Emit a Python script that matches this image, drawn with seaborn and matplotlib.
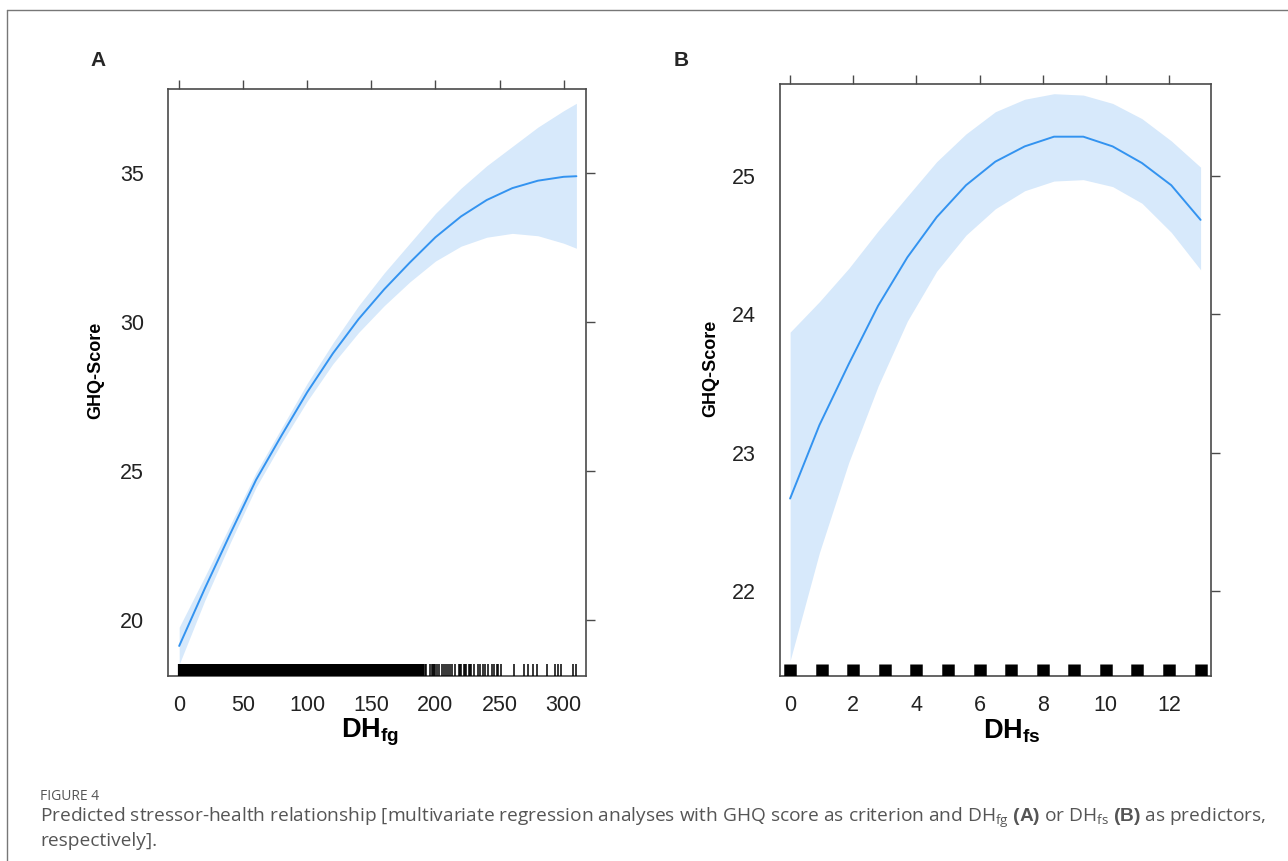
import numpy as np
import pandas as pd
import matplotlib
matplotlib.use("Agg")
import matplotlib.pyplot as plt
import seaborn as sns

# ---------------- data ----------------
# Panel A: DH_fg -> predicted GHQ-Score with 95% band
a_x = [0, 20, 40, 60, 80, 100, 120, 140, 160, 180, 200, 220, 240, 260, 280, 300, 310]
a_fit = [19.12, 21.05, 22.90, 24.70, 26.20, 27.65, 28.95, 30.10, 31.10, 32.00,
         32.85, 33.55, 34.10, 34.50, 34.75, 34.88, 34.90]
a_lower = [18.50, 20.65, 22.60, 24.45, 25.95, 27.35, 28.60, 29.65, 30.55, 31.35,
           32.05, 32.55, 32.85, 32.98, 32.90, 32.65, 32.48]
a_upper = [19.75, 21.45, 23.20, 24.95, 26.45, 27.95, 29.30, 30.55, 31.65, 32.65,
           33.65, 34.50, 35.25, 35.90, 36.55, 37.10, 37.35]
# rug of observed DH_fg values (dense blocks 0-162 and 164-190, then sparse)
a_rug_dense1 = list(range(0, 163))
a_rug_dense2 = list(range(164, 191))
a_rug_sparse = [192, 193, 196, 197, 198, 199, 200, 201, 203, 205, 207, 208, 210, 211,
                213, 215, 218, 219, 220, 222, 223, 224, 226, 227, 228, 230, 233, 235,
                237, 239, 241, 244, 246, 248, 249, 251, 261, 269, 272, 276, 279, 287,
                293, 296, 298, 307, 310]

# Panel B: DH_fs -> predicted GHQ-Score with 95% band
b_x = [0, 0.929, 1.857, 2.786, 3.714, 4.643, 5.571, 6.5, 7.429, 8.357, 9.286,
       10.214, 11.143, 12.071, 13]
b_fit = [22.67, 23.20, 23.64, 24.06, 24.41, 24.70, 24.93, 25.10, 25.21, 25.28,
         25.28, 25.21, 25.09, 24.93, 24.68]
b_lower = [21.50, 22.28, 22.93, 23.48, 23.95, 24.31, 24.57, 24.76, 24.89, 24.96,
           24.97, 24.92, 24.80, 24.59, 24.32]
b_upper = [23.87, 24.09, 24.33, 24.60, 24.85, 25.10, 25.30, 25.46, 25.55, 25.59,
           25.58, 25.52, 25.41, 25.25, 25.06]
b_rug = list(range(0, 14))

a_xticks = [0, 50, 100, 150, 200, 250, 300]
a_yticks = [20, 25, 30, 35]
b_xticks = [0, 2, 4, 6, 8, 10, 12]
b_yticks = [22, 23, 24, 25]

caption_title = "FIGURE 4"
caption_l1 = (r"Predicted stressor-health relationship [multivariate regression analyses with GHQ score as "
              r"criterion and $\mathrm{DH}_{\mathrm{fg}}$ $\mathbf{(A)}$ or $\mathrm{DH}_{\mathrm{fs}}$ "
              r"$\mathbf{(B)}$ as predictors,")
caption_l2 = "respectively]."

# ---------------- style ----------------
sns.set_style("white")
plt.rcParams["font.family"] = ["Liberation Sans", "DejaVu Sans"]
plt.rcParams["mathtext.fontset"] = "custom"
plt.rcParams["mathtext.rm"] = "Open Sans"
plt.rcParams["mathtext.bf"] = "Liberation Sans:bold"
plt.rcParams["mathtext.it"] = "Open Sans:italic"

LINE = "#3393f0"
BAND = "#d7e9fb"
SPINE = "#4a4a4a"
TXT = "#222222"

fig = plt.figure(figsize=(12.88, 8.61), dpi=100)

# figure frame (left & top edges)
fig.add_artist(plt.Line2D([7 / 1288, 7 / 1288], [0, 1 - 10 / 861], transform=fig.transFigure,
                          color="#777777", lw=1.0))
fig.add_artist(plt.Line2D([7 / 1288, 1], [1 - 10 / 861, 1 - 10 / 861], transform=fig.transFigure,
                          color="#777777", lw=1.0))

axA = fig.add_axes([168.3 / 1288, (861 - 676) / 861, (586 - 168.3) / 1288, (676 - 89) / 861])
axB = fig.add_axes([780 / 1288, (861 - 676) / 861, (1211 - 780) / 1288, (676 - 84) / 861])


def style_axes(ax):
    for s in ax.spines.values():
        s.set_visible(True)
        s.set_color(SPINE)
        s.set_linewidth(1.2)
    ax.tick_params(axis="both", which="major", direction="out", length=6.5, width=1.0,
                   color=SPINE, labelcolor=TXT, labelsize=15.5, top=True, right=True,
                   labeltop=False, labelright=False)
    ax.tick_params(axis="x", pad=7)
    ax.tick_params(axis="y", pad=11)


def rug(ax, values, lw, height=0.021):
    ax.vlines(values, 0, height, transform=ax.get_xaxis_transform(), colors="black",
              linewidth=lw, capstyle="butt", zorder=3)


# Panel A
dfA = pd.DataFrame({"x": a_x, "fit": a_fit})
axA.fill_between(a_x, a_lower, a_upper, color=BAND, lw=0)
sns.lineplot(data=dfA, x="x", y="fit", ax=axA, color=LINE, lw=1.4, estimator=None, sort=False)
rug(axA, a_rug_dense1, 1.6)
rug(axA, a_rug_dense2, 1.6)
rug(axA, a_rug_sparse, 1.1)
axA.set_xlim(-8.5, 317.5)
axA.set_ylim(18.11, 37.83)
axA.set_xticks(a_xticks)
axA.set_yticks(a_yticks)
style_axes(axA)
axA.set_xlabel(r"$\mathbf{DH}_{\mathbf{fg}}$", fontsize=19.5, color="black")
axA.set_ylabel("GHQ-Score", fontsize=13, fontweight="bold", color="black")
axA.xaxis.set_label_coords(0.483, -0.07)
axA.yaxis.set_label_coords(-0.154, 0.52)

# Panel B
dfB = pd.DataFrame({"x": b_x, "fit": b_fit})
axB.fill_between(b_x, b_lower, b_upper, color=BAND, lw=0)
sns.lineplot(data=dfB, x="x", y="fit", ax=axB, color=LINE, lw=1.4, estimator=None, sort=False)
rug(axB, b_rug, 9.0)
axB.set_xlim(-0.32, 13.33)
axB.set_ylim(21.39, 25.66)
axB.set_xticks(b_xticks)
axB.set_yticks(b_yticks)
style_axes(axB)
axB.set_xlabel(r"$\mathbf{DH}_{\mathbf{fs}}$", fontsize=19.5, color="black")
axB.set_ylabel("GHQ-Score", fontsize=13, fontweight="bold", color="black")
axB.xaxis.set_label_coords(0.537, -0.07)
axB.yaxis.set_label_coords(-0.142, 0.52)

# panel letters
fig.text(98 / 1288, 1 - 60 / 861, "A", fontsize=15, fontweight="bold", ha="center", va="center")
fig.text(681 / 1288, 1 - 60 / 861, "B", fontsize=15, fontweight="bold", ha="center", va="center")

# caption
fig.text(40 / 1288, 1 - 797 / 861, caption_title, fontsize=10, color="#555555",
         family="Open Sans", ha="left", va="center")
fig.text(40 / 1288, 1 - 818 / 861, caption_l1, fontsize=13.75, color="#555555",
         family="Open Sans", ha="left", va="center")
fig.text(40 / 1288, 1 - 841 / 861, caption_l2, fontsize=13.75, color="#555555",
         family="Open Sans", ha="left", va="center")

fig.savefig("out.png", dpi=100)
